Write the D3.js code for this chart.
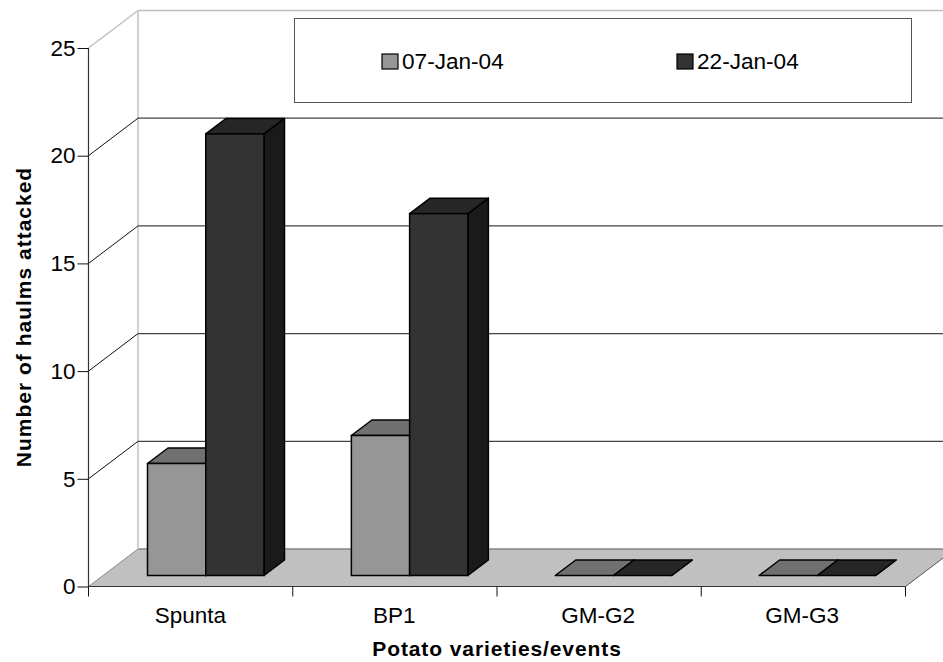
<!DOCTYPE html>
<html lang="en">
<head>
<meta charset="utf-8">
<script src="https://d3js.org/d3.v7.min.js"></script>
<style>
  html, body { margin: 0; padding: 0; background: #fff; }
  svg { display: block; }
  text { font-family: "Liberation Sans", Arial, sans-serif; fill: #000; }
</style>
</head>
<body>
<div id="graph"></div>
<script>
var categories = ["Spunta", "BP1", "GM-G2", "GM-G3"];
var seriesNames = ["07-Jan-04", "22-Jan-04"];
var jan07 = [5.2, 6.5, 0, 0];
var jan22 = [20.5, 16.8, 0, 0];
var yTicks = [0, 5, 10, 15, 20, 25];

var faceColors = ["#969696", "#333333"];
var topColors = ["#707070", "#262626"];
var sideColors = ["#4b4b4b", "#1a1a1a"];

var svg = d3.select("#graph").append("svg").attr("width", 943).attr("height", 662);

// front plane of the axes, the wall sits behind it by (wallDx, wallDy)
var xLeft = 88.5, xRight = 905.5;
var wallDx = 49.5, wallDy = -37.5;
var barDx = 20.5, barDy = -15.5;
var baseDy = -11;

var yScale = d3.scaleLinear().domain([0, 25]).range([586.5, 48]);
// bars run a touch tighter than the tick marks in the original
var xScale = d3.scaleBand().domain(categories).range([xLeft, xRight - 1.5]);
var xInner = d3.scaleBand().domain(seriesNames).range([59, 175.5]);

// floor
svg.append("polygon")
  .attr("points", [[xLeft, yScale(0)], [xLeft + wallDx, yScale(0) + wallDy], [xRight + wallDx, yScale(0) + wallDy], [xRight, yScale(0)]].join(" "))
  .attr("fill", "#c0c0c0");
svg.append("line")
  .attr("x1", xLeft).attr("y1", yScale(0))
  .attr("x2", xLeft + wallDx).attr("y2", yScale(0) + wallDy)
  .attr("stroke", "#8a8a8a").attr("stroke-width", 1);
svg.append("line")
  .attr("x1", xLeft + wallDx).attr("y1", yScale(0) + wallDy)
  .attr("x2", 943).attr("y2", yScale(0) + wallDy)
  .attr("stroke", "#868686").attr("stroke-width", 1.5);
svg.append("line")
  .attr("x1", xRight).attr("y1", yScale(0))
  .attr("x2", xRight + wallDx).attr("y2", yScale(0) + wallDy)
  .attr("stroke", "#555").attr("stroke-width", 1);

// back wall
svg.append("line")
  .attr("x1", xLeft + wallDx).attr("y1", yScale(25) + wallDy)
  .attr("x2", xLeft + wallDx).attr("y2", yScale(0) + wallDy)
  .attr("stroke", "#c0c0c0").attr("stroke-width", 1.5);
svg.append("line")
  .attr("x1", xLeft + wallDx).attr("y1", yScale(25) + wallDy)
  .attr("x2", 943).attr("y2", yScale(25) + wallDy)
  .attr("stroke", "#c0c0c0").attr("stroke-width", 1.5);
svg.append("line")
  .attr("x1", xLeft).attr("y1", yScale(25))
  .attr("x2", xLeft + wallDx).attr("y2", yScale(25) + wallDy)
  .attr("stroke", "#c0c0c0").attr("stroke-width", 1.5);

// gridlines
var gridTicks = yTicks.filter(function(d) { return d > 0 && d < 25; });
svg.append("g").selectAll("line").data(gridTicks).enter().append("line")
  .attr("x1", xLeft + wallDx).attr("x2", 943)
  .attr("y1", function(d) { return yScale(d) + wallDy; })
  .attr("y2", function(d) { return yScale(d) + wallDy; })
  .attr("stroke", "#444").attr("stroke-width", 1.2);
svg.append("g").selectAll("line").data(gridTicks).enter().append("line")
  .attr("x1", xLeft).attr("x2", xLeft + wallDx)
  .attr("y1", function(d) { return yScale(d); })
  .attr("y2", function(d) { return yScale(d) + wallDy; })
  .attr("stroke", "#111").attr("stroke-width", 1);

// bars
var rows = [];
categories.forEach(function(c, i) {
  rows.push({ cat: c, s: 0, v: jan07[i] });
  rows.push({ cat: c, s: 1, v: jan22[i] });
});
var bars = svg.append("g").selectAll("g").data(rows).enter().append("g");
var h0 = yScale(0) + baseDy;
function barLeft(d) { return xScale(d.cat) + xInner(seriesNames[d.s]); }
function barTop(d) { return h0 - (yScale(0) - yScale(d.v)); }
var w = xInner.bandwidth();

bars.append("polygon")
  .attr("points", function(d) {
    var x = barLeft(d) + w, y = barTop(d);
    return [[x, y], [x + barDx, y + barDy], [x + barDx, h0 + barDy], [x, h0]].join(" ");
  })
  .attr("fill", function(d) { return sideColors[d.s]; })
  .attr("stroke", "#000").attr("stroke-width", 1.5).attr("stroke-linejoin", "round");
bars.append("polygon")
  .attr("points", function(d) {
    var x = barLeft(d), y = barTop(d);
    return [[x, y], [x + barDx, y + barDy], [x + w + barDx, y + barDy], [x + w, y]].join(" ");
  })
  .attr("fill", function(d) { return topColors[d.s]; })
  .attr("stroke", "#000").attr("stroke-width", 1.5).attr("stroke-linejoin", "round");
bars.filter(function(d) { return d.v > 0; }).append("rect")
  .attr("x", barLeft).attr("y", barTop)
  .attr("width", w)
  .attr("height", function(d) { return h0 - barTop(d); })
  .attr("fill", function(d) { return faceColors[d.s]; })
  .attr("stroke", "#000").attr("stroke-width", 1.5);

// axes
var yAxis = d3.axisLeft(yScale).tickValues(yTicks).tickSize(11).tickPadding(2);
var gy = svg.append("g").attr("transform", "translate(" + xLeft + ",0)").call(yAxis);
gy.selectAll("path").attr("stroke", "#333").attr("stroke-width", 1.2).attr("d", "M0," + yScale(25) + "V" + yScale(0));
gy.selectAll("line").attr("stroke", "#111");
gy.selectAll("text").style("font-size", "22.5px").style("font-family", "'Liberation Sans', Arial, sans-serif").attr("fill", "#000");

var tickEdges = d3.range(categories.length + 1).map(function(i) { return xLeft + i * (xRight - xLeft) / categories.length; });
svg.append("line").attr("x1", xLeft).attr("x2", xRight).attr("y1", yScale(0)).attr("y2", yScale(0)).attr("stroke", "#333").attr("stroke-width", 1.2);
svg.append("g").selectAll("line").data(tickEdges).enter().append("line")
  .attr("x1", function(d) { return d; }).attr("x2", function(d) { return d; })
  .attr("y1", yScale(0)).attr("y2", yScale(0) + 10)
  .attr("stroke", "#111");
svg.append("g").selectAll("text").data(categories).enter().append("text")
  .attr("x", function(d) { return xScale(d) + xScale.bandwidth() / 2; })
  .attr("y", 622.5)
  .attr("text-anchor", "middle")
  .style("font-size", "22.5px")
  .text(function(d) { return d; });

// axis titles
svg.append("text").attr("x", 497).attr("y", 655.5).attr("text-anchor", "middle")
  .style("font-size", "21px").style("font-weight", "bold").style("letter-spacing", "0.9px").text("Potato varieties/events");
svg.append("text").attr("transform", "translate(30.5,317) rotate(-90)").attr("text-anchor", "middle")
  .style("font-size", "21px").style("font-weight", "bold").style("letter-spacing", "1px").text("Number of haulms attacked");

// legend
var legend = svg.append("g");
legend.append("rect").attr("x", 294.5).attr("y", 18.5).attr("width", 617).attr("height", 84)
  .attr("fill", "#fff").attr("stroke", "#555").attr("stroke-width", 1);
var legendX = d3.scaleOrdinal().domain(seriesNames).range([382, 677]);
var items = legend.selectAll("g").data(seriesNames).enter().append("g")
  .attr("transform", function(d) { return "translate(" + legendX(d) + ",54)"; });
items.append("rect").attr("width", 16).attr("height", 15)
  .attr("fill", function(d, i) { return faceColors[i]; })
  .attr("stroke", "#000").attr("stroke-width", 1.2);
items.append("text").attr("x", 20).attr("y", 14.5).style("font-size", "22.6px")
  .text(function(d) { return d; });
</script>
</body>
</html>
